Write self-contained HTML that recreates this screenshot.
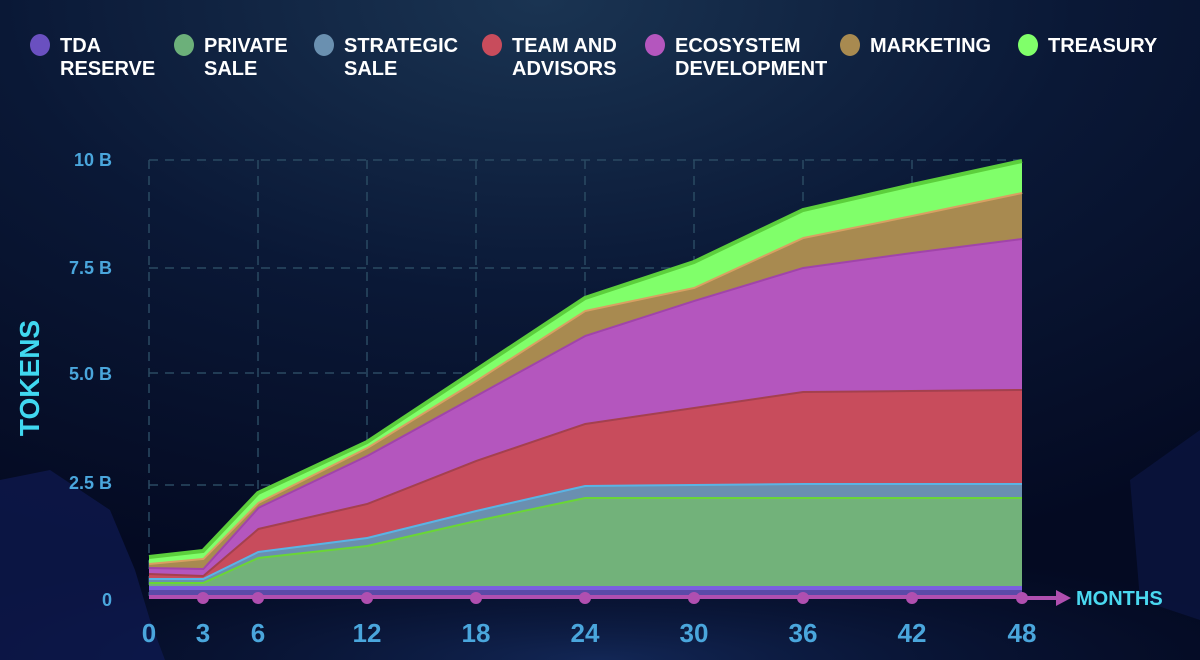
<!DOCTYPE html>
<html><head><meta charset="utf-8"><style>
html,body{margin:0;padding:0;width:1200px;height:660px;overflow:hidden;background:#050c24}
svg{display:block}
text{font-family:"Liberation Sans",sans-serif;font-weight:bold}
</style></head><body>
<svg width="1200" height="660" viewBox="0 0 1200 660" xmlns="http://www.w3.org/2000/svg">
<defs>
<radialGradient id="bg" cx="0.45" cy="0" r="0.9">
<stop offset="0" stop-color="#1a3452"/><stop offset="0.5" stop-color="#0a1836"/><stop offset="1" stop-color="#040a22"/>
</radialGradient>
<radialGradient id="bot" cx="0.5" cy="1" r="0.6">
<stop offset="0" stop-color="#1c3a78" stop-opacity="0.6"/><stop offset="1" stop-color="#0a1a40" stop-opacity="0"/>
</radialGradient>
</defs>
<rect width="1200" height="660" fill="url(#bg)"/>
<rect y="460" width="1200" height="200" fill="url(#bot)"/>
<polygon points="0,480 50,470 110,510 135,570 150,620 165,660 0,660" fill="#111c5a" opacity="0.6"/>
<polygon points="1130,480 1200,430 1200,620 1140,600" fill="#0e1a50" opacity="0.5"/>
<g stroke="#2a4a62" stroke-width="1.5" stroke-dasharray="9,7" fill="none">
<line x1="149" y1="160" x2="1022" y2="160"/>
<line x1="149" y1="268" x2="1022" y2="268"/>
<line x1="149" y1="373" x2="1022" y2="373"/>
<line x1="149" y1="485" x2="1022" y2="485"/>
<line x1="149" y1="160" x2="149" y2="596"/>
<line x1="258" y1="160" x2="258" y2="596"/>
<line x1="367" y1="160" x2="367" y2="596"/>
<line x1="476" y1="160" x2="476" y2="596"/>
<line x1="585" y1="160" x2="585" y2="596"/>
<line x1="694" y1="160" x2="694" y2="596"/>
<line x1="803" y1="160" x2="803" y2="596"/>
<line x1="912" y1="160" x2="912" y2="596"/>
</g>
<rect x="149" y="586" width="873" height="5" fill="#7b5fe0"/>
<rect x="149" y="590" width="873" height="6" fill="#5b4aa8"/>
<polygon points="149,582 203,582 258,557 367,545 476,520 585,497 694,497 803,497 912,497 1022,497 1022,586 149,586" fill="#72b27a"/>
<polyline points="149,582 203,582 258,557 367,545 476,520 585,497 694,497 803,497 912,497 1022,497" fill="none" stroke="#6ad636" stroke-width="4"/>
<polygon points="149,578 203,578 258,551 367,537 476,510 585,485 694,484 803,483 912,483 1022,483 1022,497 912,497 803,497 694,497 585,497 476,520 367,545 258,557 203,582 149,582" fill="#6a8fb0"/>
<polyline points="149,578 203,578 258,551 367,537 476,510 585,485 694,484 803,483 912,483 1022,483" fill="none" stroke="#5ab4e4" stroke-width="4"/>
<polygon points="149,573 203,575 258,528 367,503 476,460 585,423 694,407 803,391 912,390 1022,389 1022,483 912,483 803,483 694,484 585,485 476,510 367,537 258,551 203,578 149,578" fill="#c84c5c"/>
<polyline points="149,573 203,575 258,528 367,503 476,460 585,423 694,407 803,391 912,390 1022,389" fill="none" stroke="#a4404e" stroke-width="4"/>
<polygon points="149,567 203,568 258,507 367,455 476,395 585,335 694,300 803,267 912,252 1022,238 1022,389 912,390 803,391 694,407 585,423 476,460 367,503 258,528 203,575 149,573" fill="#b456be"/>
<polyline points="149,567 203,568 258,507 367,455 476,395 585,335 694,300 803,267 912,252 1022,238" fill="none" stroke="#a044aa" stroke-width="4"/>
<polygon points="149,563 203,558 258,502 367,447 476,380 585,310 694,287 803,237 912,215 1022,192 1022,238 912,252 803,267 694,300 585,335 476,395 367,455 258,507 203,568 149,567" fill="#a88a50"/>
<polyline points="149,563 203,558 258,502 367,447 476,380 585,310 694,287 803,237 912,215 1022,192" fill="none" stroke="#d8a062" stroke-width="4"/>
<polygon points="149,557 203,551 258,493 367,442 476,370 585,298 694,262 803,210 912,185 1022,161 1022,192 912,215 803,237 694,287 585,310 476,380 367,447 258,502 203,558 149,563" fill="#80ff6a"/>
<polyline points="149,557 203,551 258,493 367,442 476,370 585,298 694,262 803,210 912,185 1022,161" fill="none" stroke="#5ccf3c" stroke-width="4"/>
<rect x="149" y="595" width="873" height="4" fill="#b04fb0"/>
<line x1="1022" y1="598" x2="1058" y2="598" stroke="#b04fb0" stroke-width="4"/>
<polygon points="1056,590 1071,598 1056,606" fill="#b04fb0"/>
<g fill="#b04fb0">
<circle cx="203" cy="598" r="6"/><circle cx="258" cy="598" r="6"/><circle cx="367" cy="598" r="6"/><circle cx="476" cy="598" r="6"/><circle cx="585" cy="598" r="6"/><circle cx="694" cy="598" r="6"/><circle cx="803" cy="598" r="6"/><circle cx="912" cy="598" r="6"/><circle cx="1022" cy="598" r="6"/>
</g>
<g fill="#4aa6dc" font-size="26" text-anchor="middle">
<text x="149" y="642">0</text><text x="203" y="642">3</text><text x="258" y="642">6</text><text x="367" y="642">12</text><text x="476" y="642">18</text><text x="585" y="642">24</text><text x="694" y="642">30</text><text x="803" y="642">36</text><text x="912" y="642">42</text><text x="1022" y="642">48</text>
</g>
<g fill="#4aa6dc" font-size="18" text-anchor="end">
<text x="112" y="166">10 B</text><text x="112" y="274">7.5 B</text><text x="112" y="380">5.0 B</text><text x="112" y="489">2.5 B</text><text x="112" y="606">0</text>
</g>
<text x="1076" y="605" fill="#4ad8f0" font-size="20">MONTHS</text>
<text transform="translate(39,378) rotate(-90)" text-anchor="middle" fill="#40d8f0" font-size="28">TOKENS</text>
<g font-size="20" fill="#ffffff">
<ellipse cx="40" cy="45" rx="10" ry="11" fill="#6a50c0"/><text x="60" y="52">TDA</text><text x="60" y="75">RESERVE</text>
<ellipse cx="184" cy="45" rx="10" ry="11" fill="#6cb07a"/><text x="204" y="52">PRIVATE</text><text x="204" y="75">SALE</text>
<ellipse cx="324" cy="45" rx="10" ry="11" fill="#6a90b0"/><text x="344" y="52">STRATEGIC</text><text x="344" y="75">SALE</text>
<ellipse cx="492" cy="45" rx="10" ry="11" fill="#c84c5c"/><text x="512" y="52">TEAM AND</text><text x="512" y="75">ADVISORS</text>
<ellipse cx="655" cy="45" rx="10" ry="11" fill="#b456be"/><text x="675" y="52">ECOSYSTEM</text><text x="675" y="75">DEVELOPMENT</text>
<ellipse cx="850" cy="45" rx="10" ry="11" fill="#a88a50"/><text x="870" y="52">MARKETING</text>
<ellipse cx="1028" cy="45" rx="10" ry="11" fill="#80ff6a"/><text x="1048" y="52">TREASURY</text>
</g>
</svg>
</body></html>
